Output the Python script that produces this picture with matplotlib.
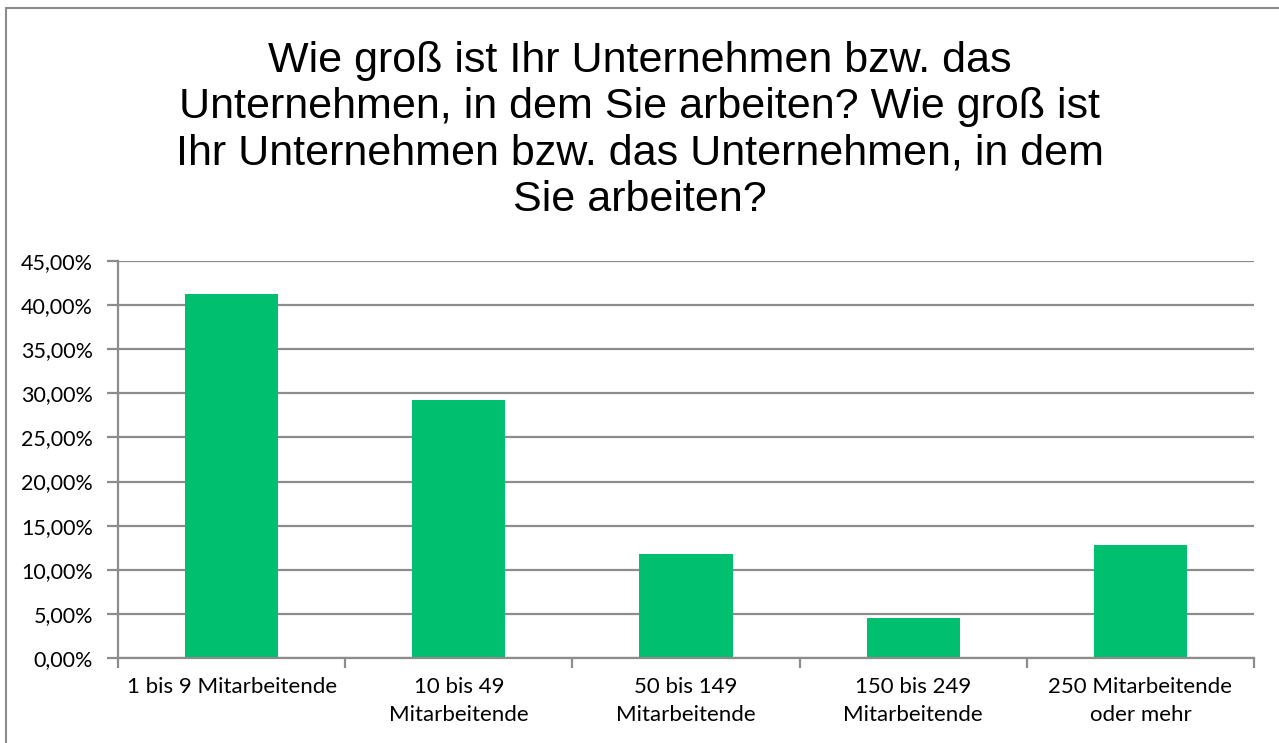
import matplotlib
matplotlib.use("Agg")
import matplotlib.pyplot as plt
from matplotlib.ticker import FuncFormatter, FixedLocator
from matplotlib.patches import Rectangle

categories = ["1 bis 9 Mitarbeitende", "10 bis 49\nMitarbeitende", "50 bis 149\nMitarbeitende",
              "150 bis 249\nMitarbeitende", "250 Mitarbeitende\noder mehr"]
values = [41.3, 29.3, 11.8, 4.5, 12.8]
yticks = [0, 5, 10, 15, 20, 25, 30, 35, 40, 45]
title = ("Wie groß ist Ihr Unternehmen bzw. das\n"
         "Unternehmen, in dem Sie arbeiten? Wie groß ist\n"
         "Ihr Unternehmen bzw. das Unternehmen, in dem\n"
         "Sie arbeiten?")

W, H = 1279, 743
fig = plt.figure(figsize=(W / 100, H / 100), dpi=100)
fig.patch.set_facecolor("white")

# outer frame
fig.patches.append(Rectangle((6 / W, -0.1), 1.2, (H - 8) / H + 0.1, transform=fig.transFigure,
                             fill=False, edgecolor="#8c8c8c", linewidth=1.5, clip_on=False))

ax = fig.add_axes([118 / W, (H - 658) / H, (1254 - 118) / W, (658 - 261) / H])
grid_c = "#8c8c8c"
x = list(range(len(categories)))
ax.bar(x, values, width=0.41, color="#00BF6F", zorder=3)
ax.set_xlim(-0.5, len(categories) - 0.5)
ax.set_ylim(0, 45)
ax.set_yticks(yticks)
ax.yaxis.set_major_formatter(FuncFormatter(lambda v, p: f"{v:.2f}".replace(".", ",") + "%"))
ax.yaxis.grid(True, color=grid_c, linewidth=1.6, zorder=0)
for s in ["top", "right"]:
    ax.spines[s].set_visible(False)
for s in ["left", "bottom"]:
    ax.spines[s].set_color(grid_c)
    ax.spines[s].set_linewidth(1.6)
    ax.spines[s].set_zorder(4)

ax.xaxis.set_major_locator(FixedLocator([i - 0.5 for i in range(len(categories) + 1)]))
ax.xaxis.set_major_formatter(FuncFormatter(lambda v, p: ""))
ax.xaxis.set_minor_locator(FixedLocator(x))
ax.set_xticklabels(categories, minor=True)
ax.tick_params(axis="x", which="major", length=7, width=1.6, color=grid_c)
ax.tick_params(axis="x", which="minor", length=0, pad=14, labelsize=16)
ax.tick_params(axis="y", length=8, width=1.6, color=grid_c, labelsize=15.5, pad=10)
for lbl in ax.get_xticklabels(minor=True) + ax.get_yticklabels():
    lbl.set_fontfamily("Lato")
for lbl in ax.get_xticklabels(minor=True):
    lbl.set_verticalalignment("top")
    lbl.set_linespacing(1.45)

fig.text(0.5, (H - 41) / H, title, ha="center", va="top", fontsize=31,
         family="Liberation Sans", linespacing=1.2)

fig.savefig("out.png", dpi=100)
